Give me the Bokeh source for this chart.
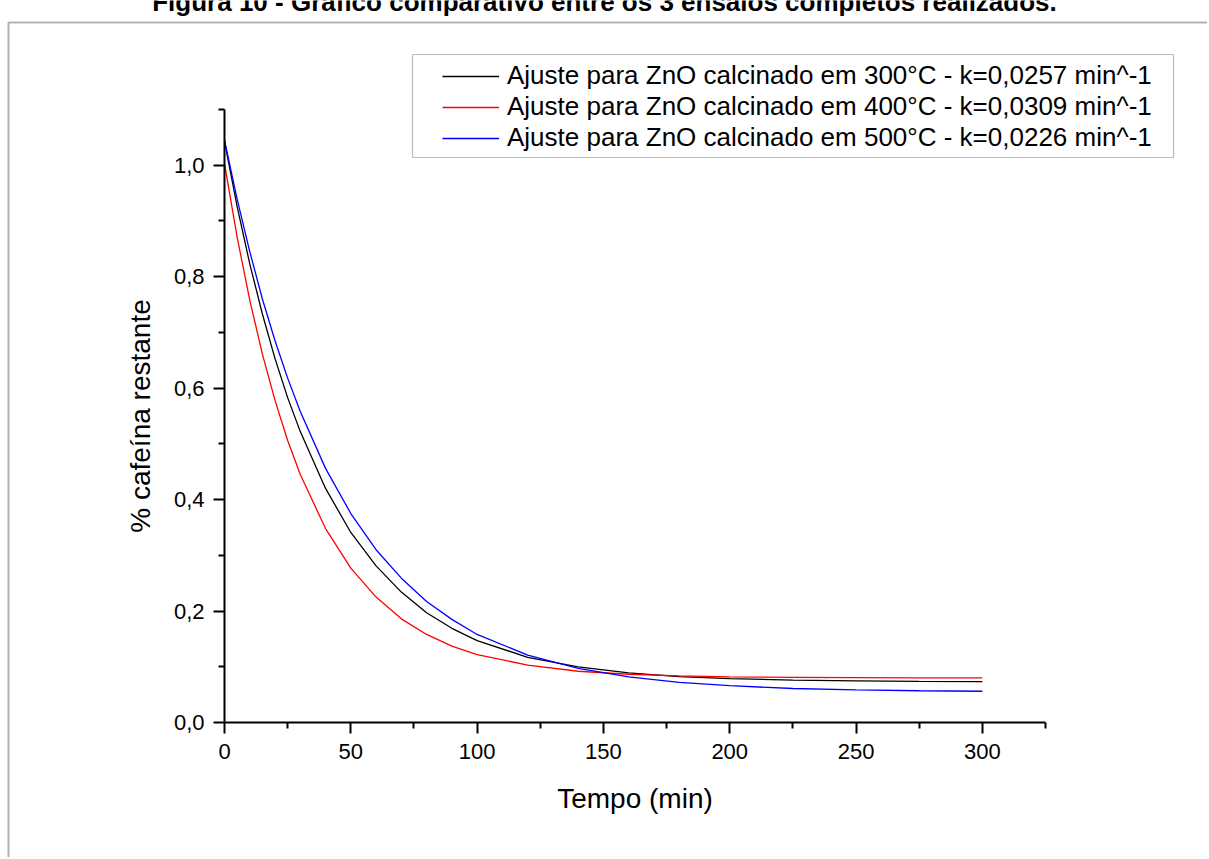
from bokeh.plotting import figure
from bokeh.models import (Range1d, FixedTicker, CustomJSTickFormatter, Legend,
                          LegendItem, BoxAnnotation, Label)
from bokeh.embed import file_html
from bokeh.resources import INLINE

FONT = "Liberation Sans"

# ---- data ----
tempo = [0, 5, 10, 15, 20, 25, 30, 40, 50, 60, 70, 80, 90, 100, 120, 140,
         160, 180, 200, 225, 250, 275, 300]
ajuste_300 = [1.043, 0.926, 0.823, 0.733, 0.653, 0.583, 0.522, 0.420, 0.341,
              0.281, 0.234, 0.197, 0.169, 0.147, 0.117, 0.100, 0.089, 0.0825,
              0.0787, 0.076, 0.0746, 0.0738, 0.0734]
ajuste_400 = [1.003, 0.871, 0.758, 0.661, 0.578, 0.506, 0.445, 0.348, 0.277,
              0.225, 0.186, 0.158, 0.137, 0.122, 0.103, 0.092, 0.0866, 0.0835,
              0.0819, 0.0809, 0.0804, 0.0802, 0.0801]
ajuste_500 = [1.045, 0.939, 0.845, 0.760, 0.685, 0.618, 0.558, 0.456, 0.375,
              0.310, 0.259, 0.217, 0.185, 0.158, 0.121, 0.097, 0.082, 0.072,
              0.066, 0.061, 0.0585, 0.057, 0.0561]

labels = [
    "Ajuste para ZnO calcinado em 300°C - k=0,0257 min^-1",
    "Ajuste para ZnO calcinado em 400°C - k=0,0309 min^-1",
    "Ajuste para ZnO calcinado em 500°C - k=0,0226 min^-1",
]
colors = ["#000000", "#ff0000", "#0000ff"]

x_ticks = [0, 50, 100, 150, 200, 250, 300]
x_minor = [25, 75, 125, 175, 225, 275, 325]
y_ticks = [0.0, 0.2, 0.4, 0.6, 0.8, 1.0]
y_minor = [0.1, 0.3, 0.5, 0.7, 0.9, 1.1]
x_bounds = (0, 325)
y_bounds = (0, 1.1)

title_text = "Figura 10 - Gráfico comparativo entre os 3 ensaios completos realizados."
x_label = "Tempo (min)"
y_label = "% cafeína restante"

# ---- layout (pixels on the canvas) ----
W, H = 1207, 857
X0_PX, X1_PX = 224, 1045      # where x = 0 and x = 325 sit
Y0_PX, Y1_PX = 722, 109       # where y = 0 and y = 1.1 sit
KX = (X1_PX - X0_PX) / (x_bounds[1] - x_bounds[0])
KY = (Y0_PX - Y1_PX) / (y_bounds[1] - y_bounds[0])


def dx(px):
    return x_bounds[0] + (px - X0_PX) / KX


def dy(py):
    return y_bounds[0] + (Y0_PX - py) / KY


p = figure(width=W, height=H, output_backend="svg", toolbar_location=None,
           title=None, x_range=Range1d(dx(0), dx(W)), y_range=Range1d(dy(H), dy(0)),
           min_border=0)
p.xgrid.visible = False
p.ygrid.visible = False
p.outline_line_color = None
p.background_fill_color = "white"
p.border_fill_color = "white"

# outer page frame
p.add_layout(BoxAnnotation(left=dx(8), right=dx(W + 50), top=dy(22), bottom=dy(H + 50),
                           fill_color=None, line_color="black", line_width=2,
                           level="underlay"))

renderers = []
for ys, c in zip([ajuste_300, ajuste_400, ajuste_500], colors):
    renderers.append(p.line(tempo, ys, line_color=c, line_width=1.3))

for ax in (p.xaxis[0], p.yaxis[0]):
    ax.fixed_location = 0
    ax.axis_line_width = 2
    ax.axis_line_color = "black"
    ax.major_tick_line_width = 2
    ax.minor_tick_line_width = 2
    ax.major_tick_line_color = "black"
    ax.minor_tick_line_color = "black"
    ax.major_tick_out = 11
    ax.major_tick_in = 0
    ax.minor_tick_out = 6
    ax.minor_tick_in = 0
    ax.major_label_text_font = FONT
    ax.major_label_text_font_size = "22px"
    ax.major_label_text_color = "black"
    ax.axis_label_text_font = FONT
    ax.axis_label_text_font_size = "28px"
    ax.axis_label_text_font_style = "normal"
    ax.axis_label_text_color = "black"

p.xaxis.bounds = x_bounds
p.yaxis.bounds = y_bounds
p.xaxis.ticker = FixedTicker(ticks=x_ticks, minor_ticks=x_minor)
p.yaxis.ticker = FixedTicker(ticks=y_ticks, minor_ticks=y_minor)
p.yaxis.formatter = CustomJSTickFormatter(code="return tick.toFixed(1).replace('.', ',');")
p.xaxis.formatter = CustomJSTickFormatter(code="return tick.toFixed(0);")
p.xaxis.axis_label = x_label
p.yaxis.axis_label = y_label
p.xaxis.major_label_standoff = 10
p.yaxis.major_label_standoff = 9
p.xaxis.axis_label_standoff = 21
p.yaxis.axis_label_standoff = 15

# legend box
p.add_layout(BoxAnnotation(left=dx(412), right=dx(1173), top=dy(54), bottom=dy(157),
                           fill_color="white", fill_alpha=1.0,
                           line_color="#222222", line_width=1.2))
legend = Legend(
    items=[LegendItem(label=l, renderers=[r]) for l, r in zip(labels, renderers)],
    location=(442, H - 153), margin=0, padding=7, spacing=0,
    glyph_width=57, glyph_height=30, label_height=30, label_standoff=8,
    label_text_font=FONT, label_text_font_size="26px", label_text_color="black",
    border_line_color=None, background_fill_alpha=0.0,
)
p.add_layout(legend, "center")

p.add_layout(Label(x=dx(604), y=dy(1), text=title_text,
                   text_align="center", text_baseline="alphabetic",
                   text_font=FONT, text_font_style="bold", text_font_size="26px",
                   text_color="black"))

with open("out.html", "w", encoding="utf-8") as f:
    f.write(file_html(p, INLINE))
